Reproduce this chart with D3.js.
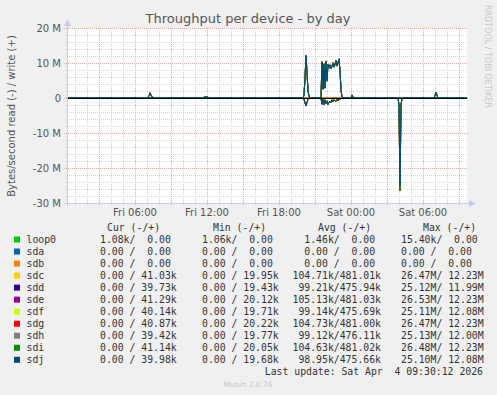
<!DOCTYPE html>
<html>
<head>
<meta charset="utf-8">
<script src="https://cdn.jsdelivr.net/npm/d3@7"></script>
<style>
  body { margin: 0; background: #f0f0f0; }
  text { font-family: "DejaVu Sans", sans-serif; }
  .mono { font-family: "DejaVu Sans Mono", monospace; font-size: 9.8px; fill: #333; white-space: pre; }
</style>
</head>
<body>
<div id="chart"></div>
<script>
// hours since Fri 00:00
var hours = [
  0.33, 7.0, 7.17, 7.25, 7.33, 7.5, 10.17, 10.25, 10.33, 11.67, 11.75, 12.08, 12.17,
  20.0, 20.08, 20.17, 20.25, 20.33, 20.42, 20.5, 20.58,
  21.5, 21.58, 21.67, 21.75, 21.83, 21.92, 22.0, 22.08, 22.17, 22.25, 22.33, 22.42,
  22.5, 22.58, 22.67, 22.75, 22.83, 22.92, 23.0, 23.08, 23.17, 23.25, 23.33,
  24.0, 24.08, 24.17, 24.25, 27.92, 28.0, 28.08, 28.17, 28.25,
  30.92, 31.0, 31.08, 31.17, 31.25, 33.67
];
// MB/s, group A = sdc sde sdg sdi, group B = sdd sdf sdh sdj
var writeA = [
  0, 0, 0.6, 1.5, 0.9, 0, 0, 0.2, 0, 0, 0.3, 0.3, 0,
  0, 0.8, 6.0, 12.2, 7.5, 2.0, 0.6, 0,
  0, 10.4, 2.5, 9.8, 3.0, 10.6, 5.0, 9.6, 8.8, 9.5, 8.6, 9.2,
  10.1, 9.0, 9.7, 10.8, 9.4, 10.2, 11.2, 8.0, 2.3, 0.3, 0,
  0, 0.9, 0.3, 0, 0, 0, 0, 0, 0,
  0, 0.7, 1.7, 0.8, 0, 0
];
var readA = [
  0, 0, 0, 0, 0, 0, 0, 0, 0, 0, 0, 0, 0,
  0, 0.3, 1.5, 2.3, 1.2, 0.4, 0.1, 0,
  0, 1.8, 0.4, 2.0, 0.6, 1.6, 0.8, 1.9, 1.2, 0.9, 1.4, 0.6,
  1.1, 0.5, 0.9, 1.0, 0.4, 0.7, 0.5, 0.3, 0.2, 0, 0,
  0, 0, 0, 0, 0, 2.2, 26.5, 2.0, 0,
  0, 0, 0, 0, 0, 0
];
var writeB = [
  0, 0, 0.5, 1.4, 0.8, 0, 0, 0.2, 0, 0, 0.3, 0.3, 0,
  0, 0.7, 5.8, 12.0, 7.2, 1.9, 0.5, 0,
  0, 10.1, 2.6, 9.5, 2.8, 10.3, 4.8, 9.4, 8.5, 9.3, 8.4, 9.0,
  9.8, 8.8, 9.5, 10.5, 9.1, 9.9, 10.9, 7.8, 2.2, 0.3, 0,
  0, 0.8, 0.3, 0, 0, 0, 0, 0, 0,
  0, 0.7, 1.6, 0.8, 0, 0
];
var readB = [
  0, 0, 0, 0, 0, 0, 0, 0, 0, 0, 0, 0, 0,
  0, 0.3, 1.4, 2.2, 1.1, 0.4, 0.1, 0,
  0, 1.7, 0.5, 1.9, 0.5, 1.5, 0.9, 1.8, 1.1, 1.0, 1.3, 0.5,
  1.0, 0.6, 0.8, 0.9, 0.5, 0.6, 0.4, 0.3, 0.2, 0, 0,
  0, 0, 0, 0, 0, 2.1, 25.1, 1.9, 0,
  0, 0, 0, 0, 0, 0
];
var flatHours = [0.33, 33.67];
var flatValues = [0, 0];

var devices = ["loop0", "sda", "sdb", "sdc", "sdd", "sde", "sdf", "sdg", "sdh", "sdi", "sdj"];
var colors = ["#00cc00", "#0066b3", "#ff8000", "#ffcc00", "#330099", "#990099", "#ccff00", "#ff0000", "#808080", "#008f00", "#00487d"];
var group = [null, null, null, "A", "B", "A", "B", "A", "B", "A", "B"];
var curText = ["1.08k/  0.00", "0.00 /  0.00", "0.00 /  0.00", "0.00 / 41.03k", "0.00 / 39.73k", "0.00 / 41.29k",
  "0.00 / 40.14k", "0.00 / 40.87k", "0.00 / 39.42k", "0.00 / 41.14k", "0.00 / 39.98k"];
var minText = ["1.06k/  0.00", "0.00 /  0.00", "0.00 /  0.00", "0.00 / 19.95k", "0.00 / 19.43k", "0.00 / 20.12k",
  "0.00 / 19.71k", "0.00 / 20.22k", "0.00 / 19.77k", "0.00 / 20.05k", "0.00 / 19.68k"];
var avgText = ["  1.46k/  0.00", "  0.00 /  0.00", "  0.00 /  0.00", "104.71k/481.01k", " 99.21k/475.94k", "105.13k/481.03k",
  " 99.14k/475.69k", "104.73k/481.00k", " 99.12k/476.11k", "104.63k/481.02k", " 98.95k/475.66k"];
var maxText = ["15.40k/  0.00", "0.00 /  0.00", "0.00 /  0.00", "26.47M/ 12.23M", "25.12M/ 11.99M", "26.53M/ 12.23M",
  "25.11M/ 12.08M", "26.47M/ 12.23M", "25.13M/ 12.00M", "26.48M/ 12.23M", "25.10M/ 12.08M"];

var xLabels = ["Fri 06:00", "Fri 12:00", "Fri 18:00", "Sat 00:00", "Sat 06:00"];
var xLabelHours = [6, 12, 18, 24, 30];
var yTicks = [-30, -20, -10, 0, 10, 20];
var yTickLabels = ["-30 M", "-20 M", "-10 M", "0", "10 M", "20 M"];

var width = 497, height = 395;
var svg = d3.select("#chart").append("svg")
  .attr("width", width)
  .attr("height", height)
  .style("display", "block");

svg.append("rect").attr("width", width).attr("height", height).attr("fill", "#f0f0f0");

var x = d3.scaleLinear().domain([1 / 3, 33 + 2 / 3]).range([67, 467]);
var y = d3.scaleLinear().domain([-30, 20]).range([203, 28]);

svg.append("rect")
  .attr("x", 67).attr("y", 28)
  .attr("width", 400).attr("height", 175)
  .attr("fill", "#fff");

// minor grid
var grid = svg.append("g");
grid.selectAll(".vmin")
  .data(d3.range(1, 34).filter(h => h % 3 != 0))
  .enter().append("line")
  .attr("x1", d => x(d) + 0.5).attr("x2", d => x(d) + 0.5)
  .attr("y1", 28).attr("y2", 205)
  .attr("stroke", "#d4d4d4").attr("stroke-dasharray", "1,1");
grid.selectAll(".hmin")
  .data(d3.range(-30, 21, 2).filter(v => v % 10 != 0))
  .enter().append("line")
  .attr("x1", 65).attr("x2", 467)
  .attr("y1", d => Math.round(y(d)) + 0.5).attr("y2", d => Math.round(y(d)) + 0.5)
  .attr("stroke", "#d4d4d4").attr("stroke-dasharray", "1,1");
// major grid
grid.selectAll(".vmaj")
  .data(d3.range(3, 34, 3))
  .enter().append("line")
  .attr("x1", d => x(d) + 0.5).attr("x2", d => x(d) + 0.5)
  .attr("y1", 28).attr("y2", 206)
  .attr("stroke", "#e8aaaa").attr("stroke-dasharray", "1,1");
grid.selectAll(".hmaj")
  .data(yTicks)
  .enter().append("line")
  .attr("x1", 64).attr("x2", 467)
  .attr("y1", d => Math.round(y(d)) + 0.5).attr("y2", d => Math.round(y(d)) + 0.5)
  .attr("stroke", "#e8aaaa").attr("stroke-dasharray", "1,1");

// series
var line = d3.line().x(d => x(d[0])).y(d => y(d[1]));
var plot = svg.append("g");
devices.forEach(function(dev, i) {
  var wr, rd;
  if (group[i] == "A") { wr = writeA; rd = readA; }
  else if (group[i] == "B") { wr = writeB; rd = readB; }
  var pos = group[i] ? hours.map((h, k) => [h, wr[k]]) : flatHours.map((h, k) => [h, flatValues[k]]);
  var neg = group[i] ? hours.map((h, k) => [h, -rd[k]]) : flatHours.map((h, k) => [h, -flatValues[k]]);
  [neg, pos].forEach(function(pts) {
    plot.append("path")
      .attr("d", line(pts))
      .attr("fill", "none")
      .attr("stroke", colors[i])
      .attr("stroke-width", 1);
  });
});

// zero rule
svg.append("line")
  .attr("x1", 67).attr("x2", 467)
  .attr("y1", y(0) + 0.5).attr("y2", y(0) + 0.5)
  .attr("stroke", "#000").attr("stroke-width", 1);

// axes
var axisColor = "#c4ccf4";
svg.append("line").attr("x1", 67.5).attr("x2", 67.5).attr("y1", 24).attr("y2", 206)
  .attr("stroke", axisColor);
svg.append("line").attr("x1", 64).attr("x2", 470).attr("y1", 203.5).attr("y2", 203.5)
  .attr("stroke", axisColor);
svg.append("path").attr("d", "M64,26 L71,26 L67.5,19 Z").attr("fill", axisColor);
svg.append("path").attr("d", "M469,200 L469,207 L476,203.5 Z").attr("fill", axisColor);

// tick labels
svg.selectAll(".ylab")
  .data(yTicks)
  .enter().append("text")
  .attr("x", 61).attr("y", d => y(d) + 3.5)
  .attr("text-anchor", "end")
  .attr("font-size", "10px")
  .attr("fill", "#555")
  .text((d, i) => yTickLabels[i]);

svg.selectAll(".xlab")
  .data(xLabelHours)
  .enter().append("text")
  .attr("x", d => x(d))
  .attr("y", 216)
  .attr("text-anchor", "middle")
  .attr("font-size", "10px")
  .attr("fill", "#555")
  .text((d, i) => xLabels[i]);

// title and axis title
svg.append("text")
  .attr("x", 248).attr("y", 23)
  .attr("text-anchor", "middle")
  .attr("font-size", "13px")
  .attr("fill", "#555")
  .text("Throughput per device - by day");

svg.append("text")
  .attr("transform", "translate(15,116) rotate(-90)")
  .attr("text-anchor", "middle")
  .attr("font-size", "10px")
  .attr("fill", "#555")
  .text("Bytes/second read (-) / write (+)");

svg.append("text")
  .attr("transform", "translate(485,5) rotate(90)")
  .attr("font-size", "8px")
  .attr("fill", "#c8c8c8")
  .text("RRDTOOL / TOBI OETIKER");

// legend
var legend = svg.append("g");
var headers = ["Cur (-/+)", "Min (-/+)", "Avg (-/+)", "Max (-/+)"];
var headerX = [107, 213, 318, 423];
legend.selectAll(".hdr")
  .data(headers)
  .enter().append("text")
  .attr("class", "mono")
  .attr("x", (d, i) => headerX[i])
  .attr("y", 231)
  .text(d => d);

var rowY = i => 243 + i * 12.03;
legend.selectAll(".sw")
  .data(devices)
  .enter().append("rect")
  .attr("x", 14).attr("y", (d, i) => rowY(i) - 6.5)
  .attr("width", 6).attr("height", 6)
  .attr("fill", (d, i) => colors[i]);

var cols = [
  { x: 26.5, vals: devices },
  { x: 100, vals: curText },
  { x: 202, vals: minText },
  { x: 292.5, vals: avgText },
  { x: 401, vals: maxText }
];
cols.forEach(function(c) {
  legend.selectAll(null)
    .data(c.vals)
    .enter().append("text")
    .attr("class", "mono")
    .attr("x", c.x)
    .attr("y", (d, i) => rowY(i))
    .text(d => d);
});

legend.append("text")
  .attr("class", "mono")
  .attr("x", 483).attr("y", 374.5)
  .attr("text-anchor", "end")
  .text("Last update: Sat Apr  4 09:30:12 2026");

svg.append("text")
  .attr("x", 248).attr("y", 387)
  .attr("text-anchor", "middle")
  .attr("font-size", "7.5px")
  .attr("fill", "#c8c8c8")
  .text("Munin 2.0.76");
</script>
</body>
</html>
